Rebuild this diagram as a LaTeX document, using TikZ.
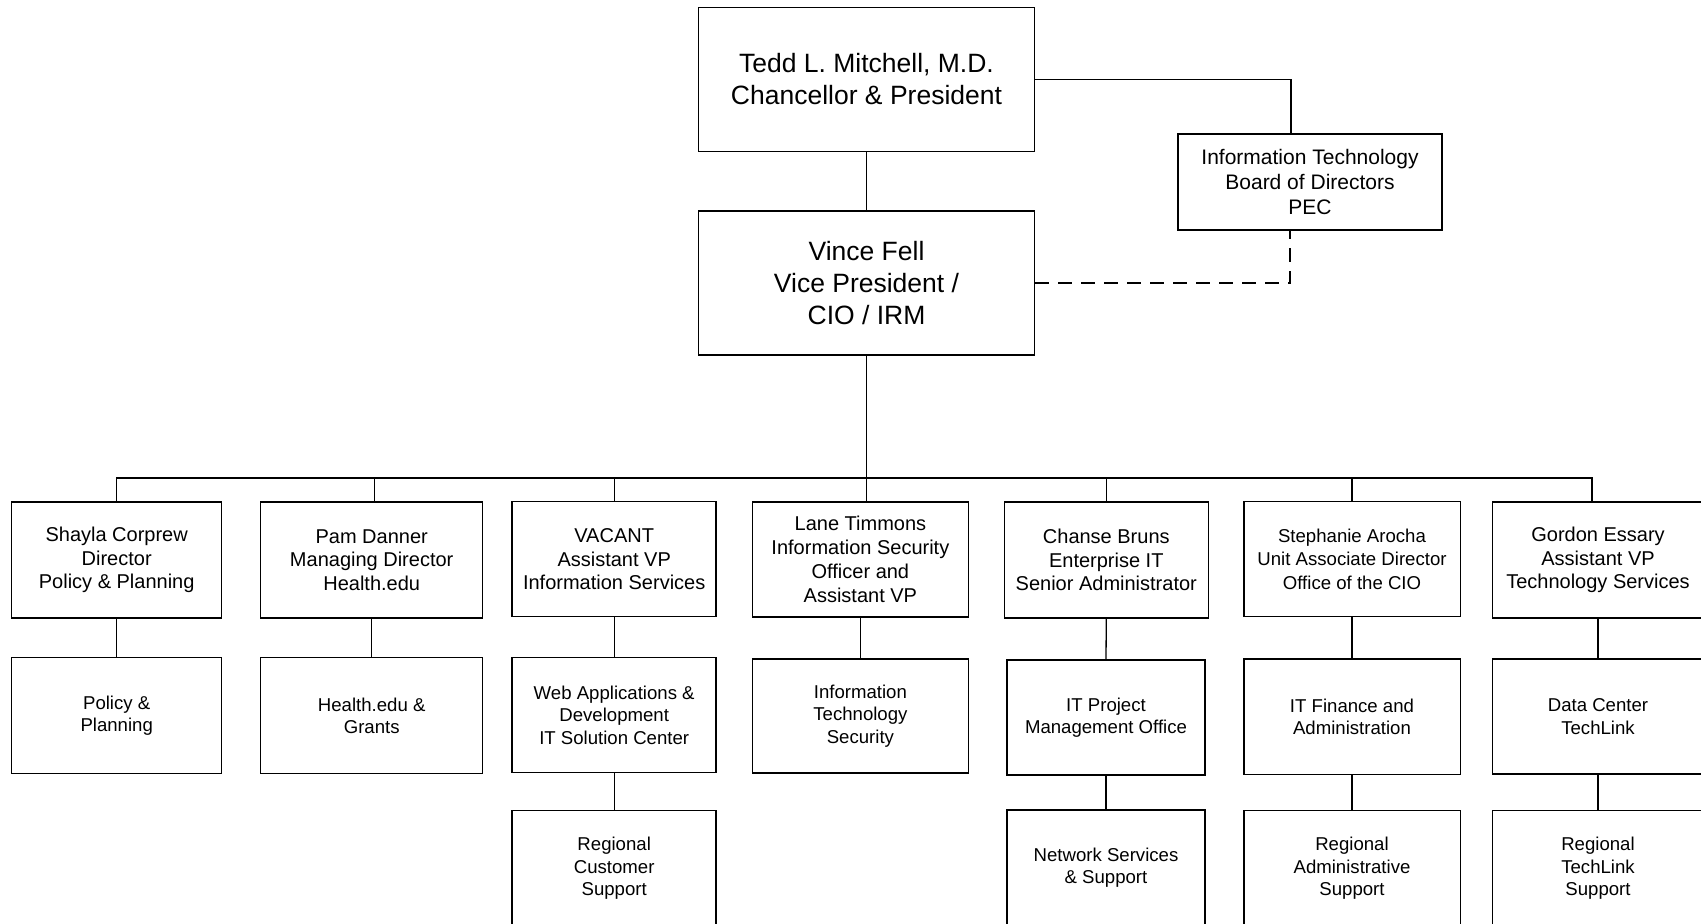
\documentclass[tikz,border=0pt]{standalone}
\usepackage{fontspec}
\setmainfont{Liberation Sans}
\tikzset{
  box/.style={rectangle, draw, line width=1.5pt, inner sep=0pt, align=center, font=\fontsize{20}{23.7}\selectfont},
  bigbox/.style={box, font=\fontsize{26.5}{32}\selectfont},
  boardbox/.style={box, font=\fontsize{21}{25}\selectfont},
  unitbox/.style={box, font=\fontsize{18.6}{22.6}\selectfont},
  wh/.style n args={2}{minimum width=#1, minimum height=#2},
  link/.style={line width=1.3pt},
}

\begin{document}
\begin{tikzpicture}[x=1pt, y=-1pt]
    \useasboundingbox (0,0) rectangle (1701,924);
    % top of the chart
    \node[bigbox, wh={336pt}{144pt}] (chancellor) at (866.5,79.5) {Tedd L. Mitchell, M.D.\\Chancellor \& President};
    \node[bigbox, wh={336pt}{144pt}] (vp) at (866.5,283) {Vince Fell\\Vice President /\\CIO / IRM};
    \node[boardbox, wh={264pt}{96pt}] (board) at (1310,182) {Information Technology\\Board of Directors\\PEC};
    \coordinate (bus) at (866.5,478);

    % direct reports
    \node[box, wh={210pt}{116pt}] (shayla) at (116.7,560) {Shayla Corprew\\Director\\Policy \& Planning};
    \node[box, wh={222pt}{116pt}] (pam) at (371.7,560) {Pam Danner\\Managing Director\\Health.edu};
    \node[box, wh={204pt}{115pt}] (vacant) at (614.2,559.2) {VACANT\\Assistant VP\\Information Services};
    \node[box, wh={216pt}{115pt}] (lane) at (860.4,559.3) {Lane Timmons\\Information Security\\Officer and\\Assistant VP};
    \node[box, wh={204pt}{116pt}] (chanse) at (1106.3,560) {Chanse Bruns\\Enterprise IT\\Senior Administrator};
    \node[unitbox, wh={216.5pt}{115pt}, font=\fontsize{18.6}{23.5}\selectfont] (steph) at (1352,559.2) {Stephanie Arocha\\Unit Associate Director\\Office of the CIO};
    \node[box, wh={211pt}{116pt}] (gordon) at (1598,560) {Gordon Essary\\Assistant VP\\Technology Services};

    % units
    \node[unitbox, wh={210pt}{116pt}] (policy) at (116.7,715.7) {Policy \&\\Planning};
    \node[unitbox, wh={222pt}{116pt}] (health) at (371.7,715.7) {Health.edu \&\\Grants};
    \node[unitbox, wh={204pt}{115.4pt}] (webapps) at (614.2,715) {Web Applications \&\\Development\\IT Solution Center};
    \node[unitbox, wh={216pt}{113.7pt}] (itsec) at (860.4,715.9) {Information\\Technology\\Security};
    \node[unitbox, wh={198pt}{115pt}] (itpmo) at (1106,717.5) {IT Project\\Management Office};
    \node[unitbox, wh={216.5pt}{115.3pt}] (itfin) at (1352,716.7) {IT Finance and\\Administration};
    \node[unitbox, wh={211pt}{115pt}] (datactr) at (1598,716.5) {Data Center\\TechLink};

    \node[unitbox, wh={204pt}{115.3pt}] (regcust) at (614.2,868.3) {Regional\\Customer\\Support};
    \node[unitbox, wh={198pt}{115.3pt}] (netsvc) at (1106,867.7) {Network Services\\\& Support};
    \node[unitbox, wh={216.5pt}{115.3pt}] (regadmin) at (1352,868.3) {Regional\\Administrative\\Support};
    \node[unitbox, wh={211pt}{115.3pt}] (regtech) at (1598,868.3) {Regional\\TechLink\\Support};

    % connectors
    \draw[link] (chancellor) -- (vp);
    \draw[link] (chancellor.east) -| ([xshift=-19pt]board.north);
    \draw[link, dash pattern=on 14pt off 9pt] (vp.east) -| ([xshift=-20pt]board.south);
    \draw[link] (vp.south) -- (vp.south |- lane.north);
    \draw[link] (shayla.north) |- (bus) -| ([xshift=-6pt]gordon.north);
    \draw[link] ([xshift=3pt]pam.north) -- ([xshift=3pt]pam.north |- bus);
    \foreach \n in {vacant, chanse, steph}
      \draw[link] (\n.north) -- (\n.north |- bus);
    \foreach \a/\b in {shayla/policy, pam/health, vacant/webapps, webapps/regcust, lane/itsec,
                       chanse/itpmo, itpmo/netsvc, steph/itfin, itfin/regadmin, gordon/datactr, datactr/regtech}
      \draw[link] (\a.south) -- (\b.north);
\end{tikzpicture}
\end{document}
